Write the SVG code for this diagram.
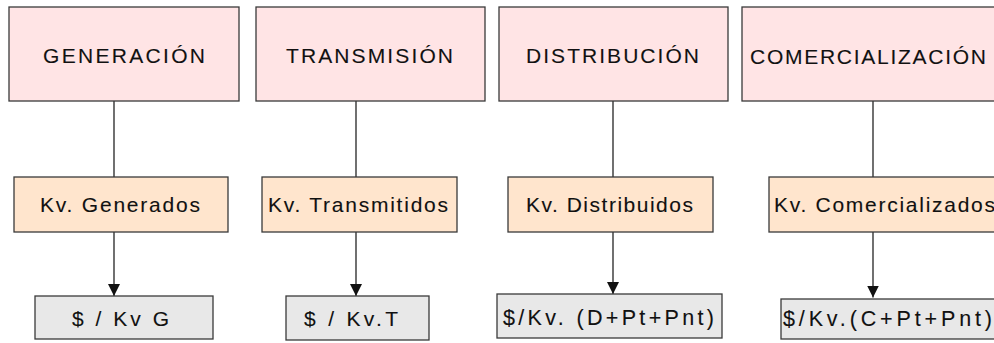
<svg xmlns="http://www.w3.org/2000/svg" width="994" height="343" viewBox="0 0 994 343">
  <style>
    .stage { fill: #ffe4e5; stroke: #3a3a3a; stroke-width: 1.3; }
    .unit { fill: #ffe5cd; stroke: #3a3a3a; stroke-width: 1.3; }
    .price { fill: #e8e8e8; stroke: #3a3a3a; stroke-width: 1.3; }
    text { font-family: "Liberation Sans", Arial, sans-serif; font-size: 21px; fill: #111; stroke: #111; stroke-width: 0.1; }
    text.formula { font-size: 21.5px; }
    .link { stroke: #111; stroke-width: 1.2; fill: none; }
  </style>
  <defs>
    <marker id="arrow" markerUnits="userSpaceOnUse" markerWidth="14" markerHeight="13" refX="12" refY="6" orient="auto">
      <path d="M0,0 L12,6 L0,12 Z" fill="#111"/>
    </marker>
  </defs>
  <rect width="994" height="343" fill="#ffffff"/>

  <!-- connectors -->
  <g id="connectors">
    <line class="link" x1="114" y1="101" x2="114" y2="177"/>
    <line class="link" x1="356" y1="101" x2="356" y2="177"/>
    <line class="link" x1="613" y1="101" x2="613" y2="177"/>
    <line class="link" x1="873" y1="101" x2="873" y2="177"/>
    <line class="link" x1="114" y1="232" x2="114" y2="296" marker-end="url(#arrow)"/>
    <line class="link" x1="356" y1="232" x2="356" y2="296" marker-end="url(#arrow)"/>
    <line class="link" x1="613" y1="232" x2="613" y2="294" marker-end="url(#arrow)"/>
    <line class="link" x1="873" y1="232" x2="873" y2="297.5" marker-end="url(#arrow)"/>
  </g>

  <!-- stage headers -->
  <g id="generacion">
    <rect class="stage" x="9" y="7" width="230" height="94"/>
    <text x="43" y="62.5" textLength="162" lengthAdjust="spacing">GENERACIÓN</text>
  </g>
  <g id="transmision">
    <rect class="stage" x="256" y="7" width="229" height="94"/>
    <text x="286" y="62.5" textLength="167" lengthAdjust="spacing">TRANSMISIÓN</text>
  </g>
  <g id="distribucion">
    <rect class="stage" x="499" y="7" width="229" height="94"/>
    <text x="526" y="62.5" textLength="173" lengthAdjust="spacing">DISTRIBUCIÓN</text>
  </g>
  <g id="comercializacion">
    <rect class="stage" x="742" y="7" width="262" height="94"/>
    <text x="750" y="63.5" textLength="236" lengthAdjust="spacing">COMERCIALIZACIÓN</text>
  </g>

  <!-- energy units -->
  <g id="kv-generados">
    <rect class="unit" x="14" y="177" width="214" height="55"/>
    <text x="40" y="211.5" textLength="160" lengthAdjust="spacing">Kv. Generados</text>
  </g>
  <g id="kv-transmitidos">
    <rect class="unit" x="262" y="177" width="195" height="55"/>
    <text x="268" y="211.5" textLength="180" lengthAdjust="spacing">Kv. Transmitidos</text>
  </g>
  <g id="kv-distribuidos">
    <rect class="unit" x="508" y="177" width="205" height="55"/>
    <text x="526" y="211.5" textLength="167" lengthAdjust="spacing">Kv. Distribuidos</text>
  </g>
  <g id="kv-comercializados">
    <rect class="unit" x="769" y="177" width="235" height="55"/>
    <text x="774" y="211.5" textLength="221" lengthAdjust="spacing">Kv. Comercializados</text>
  </g>

  <!-- prices -->
  <g id="precio-g">
    <rect class="price" x="35" y="296" width="178" height="43"/>
    <text x="72" y="325.5" textLength="97" lengthAdjust="spacing">$ / Kv G</text>
  </g>
  <g id="precio-t">
    <rect class="price" x="286" y="296" width="143" height="44"/>
    <text x="304" y="326" textLength="94" lengthAdjust="spacing">$ / Kv.T</text>
  </g>
  <g id="precio-d">
    <rect class="price" x="497" y="294" width="225" height="44"/>
    <text class="formula" x="503" y="324.5" textLength="211" lengthAdjust="spacing">$/Kv. (D+Pt+Pnt)</text>
  </g>
  <g id="precio-c">
    <rect class="price" x="781" y="299" width="223" height="40"/>
    <text class="formula" x="783" y="325.5" textLength="209" lengthAdjust="spacing">$/Kv.(C+Pt+Pnt)</text>
  </g>
</svg>
